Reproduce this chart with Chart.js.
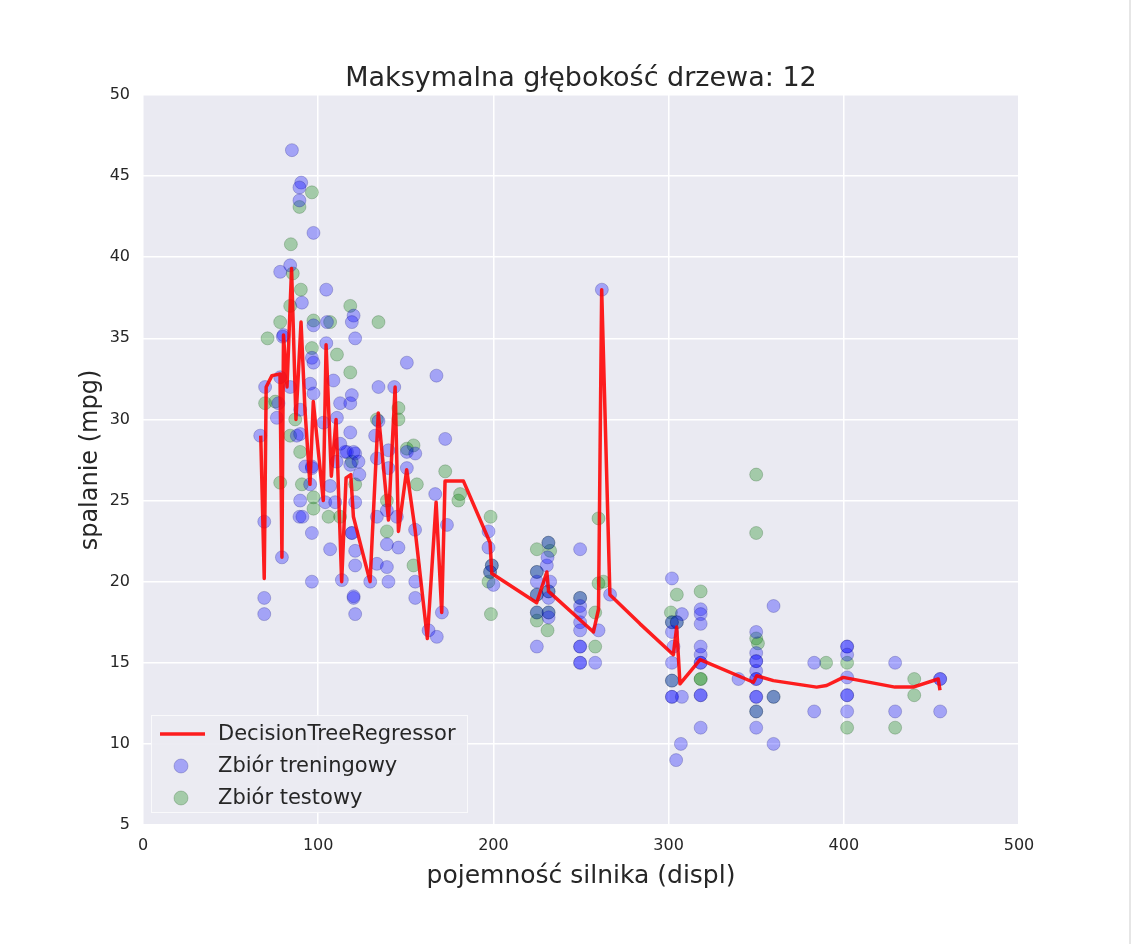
<!DOCTYPE html>
<html>
<head>
<meta charset="utf-8">
<script src="https://cdn.jsdelivr.net/npm/chart.js@4.4.0/dist/chart.umd.min.js"></script>
<style>
  html, body { margin: 0; padding: 0; background: #fff; }
  #wrap { width: 1133px; height: 944px; position: relative; }
  #edge { position: absolute; right: 2px; top: 0; width: 2px; height: 944px; background: #e6e6e6; }
</style>
</head>
<body>
<div id="wrap"><canvas id="chart"></canvas><div id="edge"></div></div>
<script>
// Training set (displacement, mpg)
const trainDispl = [
  85, 90.3, 89.3, 89.3, 97.3, 84, 78.3, 104.6, 90.7, 120.2,
  119.2, 105, 97.3, 79.8, 121.1, 104.6, 96.4, 150.6, 167.5, 80.2,
  97.3, 108.7, 112.5, 119.2, 118.3, 69.7, 77.3, 84, 89.7, 95.4,
  97.3, 103, 110.7, 66.9, 87.8, 89.7, 76.4, 116.4, 121.1, 123,
  96.4, 92.6, 78.3, 134.4, 143.4, 132.5, 134.4, 115.4, 120.2, 118.3,
  133.5, 140.1, 150.6, 155.4, 150.6, 96.4, 95.4, 140.1, 106.8, 89.7,
  104, 109.7, 121.1, 89.3, 133.5, 144.9, 119.2, 139.2, 96.4, 106.8,
  121.1, 69.2, 79.3, 121.1, 133.5, 139.2, 96.4, 113.5, 129.7, 140.1,
  155.4, 166.8, 155.4, 69.2, 69.2, 120.2, 121.1, 170.6, 163, 167.7,
  172.5, 173.5, 155.3, 145.8, 139.2, 91, 119.2, 120.2, 197.2, 197.2,
  200, 199.1, 198.1, 261.9, 224.8, 232.4, 230.5, 230.9, 231.5, 231.5,
  224.8, 249.5, 249.5, 249.5, 249.5, 249.5, 249.5, 249.5, 249.5, 249.5,
  260, 258.1, 266.6, 224.8, 231.4, 231.5, 224.8, 224.8, 231.5, 249.5,
  301.9, 307.6, 318.3, 318.3, 318.3, 301.9, 302.8, 301.9, 301.9, 301.9,
  307.6, 318.3, 318.3, 318.3, 318.3, 318.3, 318.3, 318.3, 307, 304.3,
  339.9, 350, 350, 350, 350, 350, 350, 350, 350, 350,
  350, 359.9, 359.9, 383.1, 383.1, 301.9, 301.9, 304.7, 350, 359.9,
  401.9, 401.9, 401.9, 401.9, 401.9, 401.9, 401.9, 429.3, 429.3, 455,
  455, 455, 112.6, 118.3, 123.5, 110.5
];
const trainMpg = [
  46.6, 44.6, 44.3, 43.5, 41.5, 39.5, 39.1, 38, 37.2, 36.4,
  36, 36, 35.8, 35.1, 35, 34.7, 33.8, 33.5, 32.7, 35.2,
  33.5, 32.4, 31, 31.5, 31, 32, 31, 32, 30.6, 32.2,
  31.6, 29.8, 30.1, 29, 29, 29.1, 30.1, 28, 27.9, 27.4,
  27.1, 27.1, 32.6, 32, 32, 29, 29.9, 28, 28, 27.2,
  27.6, 28.1, 28, 27.9, 27, 27, 26, 27, 25.9, 25,
  24.9, 24.9, 24.9, 24, 24, 24, 23, 22.3, 23, 22,
  21.9, 23.7, 21.5, 21, 21.1, 20.9, 20, 20.1, 20, 20,
  20, 25.4, 19, 19, 18, 19, 18, 18.1, 17, 16.6,
  28.8, 23.5, 23.2, 22.1, 24.4, 24, 23, 19.1, 23.1, 22.1,
  19.8, 21, 20.6, 38, 20, 20, 21, 21.5, 19, 17.8,
  16, 22, 18.5, 18.1, 17.5, 17, 16, 16, 15, 15,
  17, 15, 19.2, 20.6, 22.4, 19.4, 19.2, 18.1, 18.1, 19,
  20.2, 18, 18.3, 18, 17.4, 16.9, 16, 15, 12.9, 12.9,
  12.9, 16, 15.5, 15, 15, 13, 13, 11, 10, 9,
  14, 16.9, 15.6, 15.1, 15.1, 14.5, 14, 14, 12.9, 12.9,
  11, 10, 18.5, 15, 12, 17.5, 13.9, 17.5, 12, 12.9,
  16, 16, 15.5, 14.1, 13, 13, 12, 15, 12, 14,
  14, 12, 28.5, 29.2, 26.6, 27.4
];

// Test set (displacement, mpg)
const testDispl = [
  96.4, 89.3, 84.4, 85.5, 90.1, 84, 118.3, 78.3, 97.3, 106.8,
  134.4, 71.1, 96.4, 110.7, 118.3, 75.5, 69.7, 84, 89.7, 119.2,
  86.9, 133.5, 145.8, 145.8, 78.3, 90.7, 121.1, 150.6, 154.4, 156.3,
  139.2, 97.3, 97.3, 105.9, 112.5, 154.4, 172.5, 180, 181, 139.2,
  198.4, 199.1, 198.1, 197.2, 198.6, 224.8, 231.4, 232.4, 224.8, 231.5,
  224.8, 224.8, 224.8, 231.5, 230.9, 249.5, 258.1, 258.1, 260, 260,
  262.8, 350, 350, 304.7, 318.3, 301.3, 301.9, 304.7, 301.9, 318.3,
  318.3, 350, 351, 350, 359.9, 389.9, 401.9, 401.9, 429.3, 440.2,
  440.2
];
const testMpg = [
  44, 43.1, 40.8, 39, 38, 37, 37, 36, 36.1, 36,
  36, 35, 34.4, 34, 32.9, 31.1, 31, 29, 28, 27.4,
  30, 30, 30.7, 30, 26.1, 26, 26, 28.2, 28.4, 26,
  25, 25.2, 24.5, 24, 24, 21, 26.8, 25, 25.4, 23.1,
  24, 21, 20.6, 20, 18, 22, 22.4, 21.9, 20.6, 19.4,
  19.2, 18.1, 17.6, 18.1, 17, 19, 18.1, 16, 23.9, 19.9,
  20, 26.6, 23, 19.2, 19.4, 18.1, 17.5, 17.5, 13.9, 14,
  14, 16.5, 16.2, 12, 12.9, 15, 15, 11, 11, 14,
  13
];

// DecisionTreeRegressor prediction, sorted by displacement
const treeDispl = [
  67.2, 69.2, 70.3, 73.6, 78.2, 79.3, 80.2, 82.2, 84.8, 87.3,
  90.2, 92.5, 95.3, 97.2, 102.9, 104.5, 107.5, 110.2, 113.4, 115.9,
  118.6, 120.1, 129.6, 134.3, 140.1, 143.9, 145.8, 150.5, 155.3, 162.3,
  167.3, 170.5, 172.4, 182.9, 198.1, 199.1, 224.7, 230.5, 231.5, 257.1,
  260, 261.8, 266.5, 283.7, 302.7, 304.6, 306.5, 318, 348.4, 350.3,
  359.8, 384.5, 390.2, 399.7, 429.2, 439.6, 453.9, 454.9
];
const treeMpg = [
  29.0, 20.2, 32.0, 32.7, 32.8, 21.5, 35.2, 32.0, 39.3, 30.0,
  36.0, 30.5, 26.0, 31.1, 25.0, 34.6, 26.5, 30.0, 20.0, 26.4,
  26.6, 24.0, 20.0, 30.4, 23.8, 32.0, 23.1, 26.9, 23.2, 16.5,
  24.9, 18.1, 26.2, 26.2, 22.4, 20.5, 18.7, 20.6, 19.4, 16.9,
  18.3, 38.0, 19.2, 17.4, 15.5, 17.2, 13.7, 15.2, 13.8, 14.2,
  13.9, 13.5, 13.6, 14.1, 13.5, 13.5, 14.0, 13.3
];

const chartTitle = 'Maksymalna głębokość drzewa: 12';
const xTitle = 'pojemność silnika (displ)';
const yTitle = 'spalanie (mpg)';
const labels = ['DecisionTreeRegressor', 'Zbiór treningowy', 'Zbiór testowy'];

const FONT = "'DejaVu Sans', 'Noto Sans', sans-serif";
const TEXT = '#262626';
const BLUE_FILL = 'rgba(0, 0, 255, 0.3)';
const BLUE_EDGE = 'rgba(0, 0, 110, 0.22)';
const GREEN_FILL = 'rgba(0, 128, 0, 0.3)';
const GREEN_EDGE = 'rgba(0, 70, 0, 0.22)';
const RED = 'rgba(255, 0, 0, 0.88)';

const toPoints = (xs, ys) => xs.map((x, i) => ({ x: x, y: ys[i] }));

// grey plot background like seaborn darkgrid
const plotBg = {
  id: 'plotBg',
  beforeDraw(chart) {
    const { ctx, chartArea: a } = chart;
    ctx.save();
    ctx.fillStyle = '#eaeaf2';
    ctx.fillRect(a.left, a.top, a.right - a.left, a.bottom - a.top);
    ctx.restore();
  }
};

// title and legend drawn inside the figure
const overlay = {
  id: 'overlay',
  afterDraw(chart) {
    const { ctx, chartArea: a } = chart;
    ctx.save();
    ctx.fillStyle = TEXT;
    ctx.font = '27px ' + FONT;
    ctx.textAlign = 'center';
    ctx.textBaseline = 'alphabetic';
    ctx.fillText(chartTitle, (a.left + a.right) / 2, a.top - 9);

    // legend box
    const bx = a.left + 8, by = a.bottom - 110, bw = 317, bh = 98;
    ctx.fillStyle = 'rgba(234, 234, 242, 0.92)';
    ctx.fillRect(bx, by, bw, bh);
    ctx.strokeStyle = 'rgba(255, 255, 255, 0.7)';
    ctx.lineWidth = 1;
    ctx.strokeRect(bx + 0.5, by + 0.5, bw - 1, bh - 1);

    const rows = [by + 19, by + 51, by + 83];
    ctx.strokeStyle = RED;
    ctx.lineWidth = 3.5;
    ctx.beginPath();
    ctx.moveTo(bx + 9, rows[0]);
    ctx.lineTo(bx + 54, rows[0]);
    ctx.stroke();

    [[BLUE_FILL, BLUE_EDGE], [GREEN_FILL, GREEN_EDGE]].forEach((c, i) => {
      ctx.beginPath();
      ctx.arc(bx + 30, rows[i + 1], 7, 0, Math.PI * 2);
      ctx.fillStyle = c[0];
      ctx.fill();
      ctx.strokeStyle = c[1];
      ctx.lineWidth = 1;
      ctx.stroke();
    });

    ctx.fillStyle = TEXT;
    ctx.font = '21px ' + FONT;
    ctx.textAlign = 'left';
    ctx.textBaseline = 'middle';
    labels.forEach((t, i) => ctx.fillText(t, bx + 67, rows[i] + 1));
    ctx.restore();
  }
};

const ctx = document.getElementById('chart').getContext('2d');
new Chart(ctx, {
  type: 'scatter',
  data: {
    datasets: [
      {
        type: 'line',
        label: labels[0],
        data: toPoints(treeDispl, treeMpg),
        borderColor: RED,
        borderWidth: 3.5,
        borderJoinStyle: 'round',
        pointRadius: 0,
        tension: 0,
        fill: false
      },
      {
        label: labels[1],
        data: toPoints(trainDispl, trainMpg),
        backgroundColor: BLUE_FILL,
        borderColor: BLUE_EDGE,
        borderWidth: 1,
        pointRadius: 6.5
      },
      {
        label: labels[2],
        data: toPoints(testDispl, testMpg),
        backgroundColor: GREEN_FILL,
        borderColor: GREEN_EDGE,
        borderWidth: 1,
        pointRadius: 6.5
      }
    ]
  },
  options: {
    responsive: true,
    maintainAspectRatio: false,
    animation: false,
    devicePixelRatio: 1,
    events: [],
    layout: { padding: { top: 95, right: 114, bottom: 0, left: 0 } },
    plugins: {
      legend: { display: false },
      tooltip: { enabled: false },
      title: { display: false }
    },
    scales: {
      x: {
        type: 'linear',
        min: 0,
        max: 500,
        afterFit: s => { s.height = 119; },
        ticks: { stepSize: 100, color: TEXT, padding: 11, font: { family: FONT, size: 16 } },
        grid: { color: '#ffffff', lineWidth: 1.5, drawTicks: false },
        border: { display: false },
        title: {
          display: true, text: xTitle, color: TEXT,
          font: { family: FONT, size: 25 },
          padding: { top: 0, bottom: 53 }
        }
      },
      y: {
        type: 'linear',
        min: 5,
        max: 50,
        afterFit: s => { s.width = 143; },
        ticks: { stepSize: 5, color: TEXT, padding: 13, font: { family: FONT, size: 16 } },
        grid: { color: '#ffffff', lineWidth: 1.5, drawTicks: false },
        border: { display: false },
        title: {
          display: true, text: yTitle, color: TEXT,
          font: { family: FONT, size: 24 },
          padding: { top: 76, bottom: 0 }
        }
      }
    }
  },
  plugins: [plotBg, overlay]
});
</script>
</body>
</html>
